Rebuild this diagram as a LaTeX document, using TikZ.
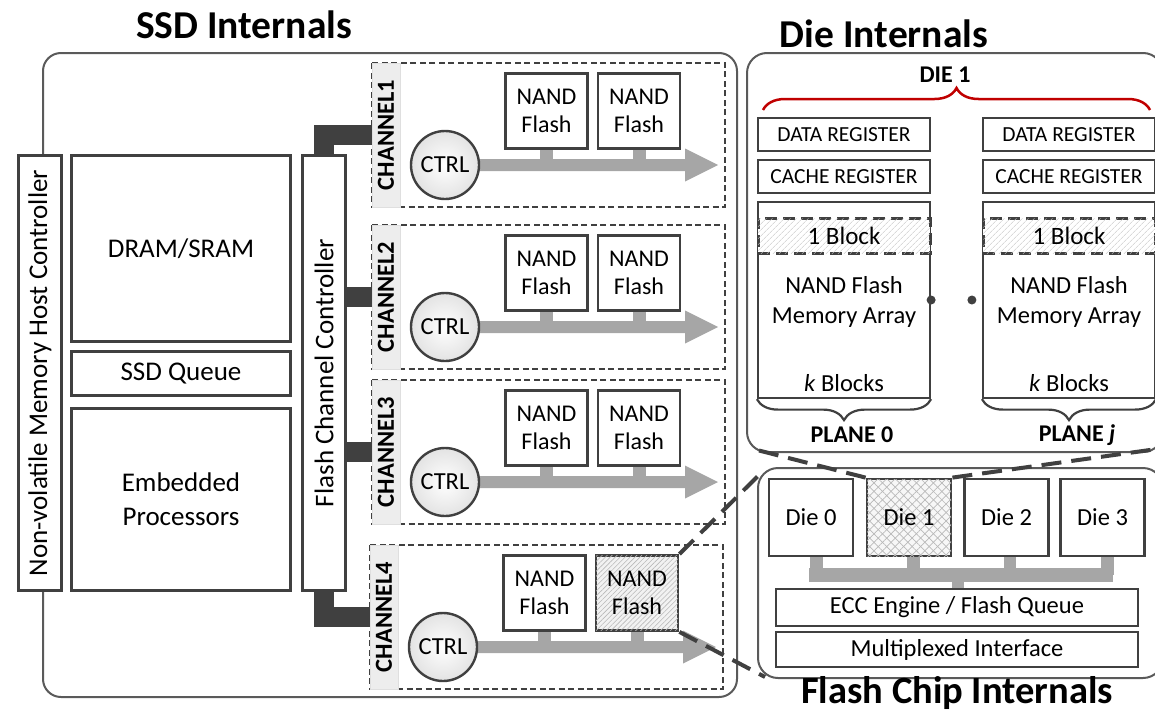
\documentclass[tikz,border=0pt]{standalone}
\usepackage{fontspec}
\setmainfont{Carlito}
\usepackage{graphicx}
\usetikzlibrary{patterns,patterns.meta,decorations.pathreplacing,calc}
\definecolor{lc}{HTML}{404040}
\definecolor{oc}{HTML}{5A5A5A}
\definecolor{busc}{HTML}{A6A6A6}
\definecolor{tabc}{HTML}{EDEDED}
\definecolor{redc}{HTML}{C00000}
\pgfdeclarelayer{bg}
\pgfsetlayers{bg,main}
\newcommand\fsz[2]{\fontsize{#1}{#2}\selectfont}
\begin{document}
\begin{tikzpicture}[x=1pt,y=-1pt,
  bx/.style={draw=lc,line width=2.8pt,fill=white,inner sep=0pt,align=center},
  lefttxt/.style={font=\fsz{27}{34}},
  outerbox/.style={draw=oc,line width=2pt,rounded corners=18pt},
  chdash/.style={draw=lc,line width=1.6pt,dash pattern=on 6pt off 3.5pt},
  chtab/.style={fill=tabc,draw=gray!25,line width=0.8pt,inner sep=0pt,minimum width=28,minimum height=144,font=\fsz{24.5}{28}\bfseries},
  nandbox/.style={bx,minimum width=82,minimum height=75,font=\fsz{24}{28}},
  ctrlc/.style={circle,draw=lc,line width=2.4pt,inner sep=0pt,minimum size=68,inner color=white,outer color=gray!22,font=\fsz{24.5}{28}},
  dconn/.style={draw=lc,line width=19.5pt},
  hatchfill/.style={fill=gray!10,postaction={pattern={Lines[angle=45,distance=3.5pt,line width=0.6pt]},pattern color=gray!55}},
  nbs1/.style={},nbs2/.style={},nbs3/.style={},nbs4/.style={hatchfill},
  rbox/.style={draw=lc,line width=2.2pt,fill=white,inner sep=0pt,minimum width=172,minimum height=33,font=\fsz{21.5}{24}},
  blockband/.style={draw=lc,line width=3pt,dash pattern=on 12pt off 6pt,fill=white,postaction={pattern={Lines[angle=45,distance=4pt,line width=0.6pt]},pattern color=gray!45},inner sep=0pt,minimum width=172,minimum height=35,font=\fsz{25}{28}},
  dietxt/.style={font=\fsz{24.5}{30},align=center,inner sep=0pt},
  planelbl/.style={font=\fsz{24}{28}\bfseries,inner sep=0pt},
  diebox/.style={bx,minimum width=84,minimum height=77,font=\fsz{24.5}{28}},
  crossfill/.style={fill=gray!6,postaction={pattern={Lines[angle=45,distance=6pt,line width=0.7pt]},pattern color=gray!55},postaction={pattern={Lines[angle=-45,distance=6pt,line width=0.7pt]},pattern color=gray!55}},
  wbox/.style={bx,minimum width=362,font=\fsz{24.5}{28}},
  zoomdash/.style={draw=lc,line width=4pt,dash pattern=on 20pt off 10pt},
  ttl/.style={font=\fsz{39.5}{44}\bfseries,inner sep=0pt,anchor=base}
]
\useasboundingbox (0,0) rectangle (1155,712);
\clip (0,0) rectangle (1155,712);

% ---------------- SSD internals ----------------
\draw[outerbox] (43,53) rectangle (737,697);
\node[ttl] (tssd) at (244,38) {SSD Internals};

\node[bx,lefttxt,minimum width=43,minimum height=435] (host) at (40,373) {\rotatebox{90}{Non-volatile Memory Host Controller}};
\node[bx,lefttxt,minimum width=219,minimum height=186] (dram) at (181,248.5) {DRAM/SRAM};
\node[bx,lefttxt,minimum width=219,minimum height=44] (queue) at (181,373.5) {SSD Queue};
\node[bx,lefttxt,minimum width=219,minimum height=182] (proc) at (181,499.5) {Embedded\\Processors};
\node[bx,lefttxt,minimum width=43,minimum height=435] (fcc) at (324,373) {\rotatebox{90}{Flash Channel Controller}};

\foreach \i/\t/\dx in {1/63/0,2/225/0,3/380/0,4/545/-2}{
  \draw[chdash] (372+\dx,\t) rectangle (725+\dx,\t+144);
  \node[chtab] (tab\i) at (386+\dx,\t+72) {\rotatebox{90}{CHANNEL\i}};
  \node[nandbox] (na\i) at (546.5+\dx,\t+48) {NAND\\Flash};
  \node[nandbox,nbs\i] (nb\i) at (639+\dx,\t+48) {NAND\\Flash};
  \node[ctrlc] (ctrl\i) at (445+\dx,\t+102) {CTRL};
  \coordinate (end\i) at (718+\dx,\t+102);
  \begin{pgfonlayer}{bg}
    \fill[busc] ($(ctrl\i.center)+(0,-6)$) -- ($(end\i)+(-33,-6)$) -- ($(end\i)+(-33,-16.5)$) -- (end\i)
      -- ($(end\i)+(-33,16.5)$) -- ($(end\i)+(-33,6)$) -- ($(ctrl\i.center)+(0,6)$) -- cycle;
    \draw[busc,line width=13pt] (na\i.south) -- (na\i.south |- end\i);
    \draw[busc,line width=13pt] (nb\i.south) -- (nb\i.south |- end\i);
  \end{pgfonlayer}
}

\begin{pgfonlayer}{bg}
  \draw[dconn] (fcc.north) |- (tab1.center);
  \draw[dconn] (fcc.center |- tab2.center) -- (tab2.center);
  \draw[dconn] (fcc.center |- tab3.center) -- (tab3.center);
  \draw[dconn] (fcc.south) |- (tab4.center);
\end{pgfonlayer}

% ---------------- Die internals ----------------
\draw[outerbox,rounded corners=20pt] (747,53) rectangle (1163,452);
\node[ttl] (tdie) at (884,47) {Die Internals};
\node[planelbl] (die1lbl) at (945,75) {DIE 1};
\draw[redc,line width=2.5pt,decorate,decoration={brace,amplitude=22pt}] (763,110) -- (1150,110);

\foreach \p/\cx in {0/844,1/1069}{
  \node[rbox] (dr\p) at (\cx,134.5) {DATA REGISTER};
  \node[rbox] (cr\p) at (\cx,176.5) {CACHE REGISTER};
  \node[rbox,minimum height=196] (ar\p) at (\cx,300) {};
  \node[blockband] (bl\p) at (\cx,235.5) {1 Block};
  \node[dietxt] (at\p) at (\cx,302) {NAND Flash\\Memory Array};
  \node[dietxt] (kb\p) at (\cx,383) {\textit{k} Blocks};
  \draw[lc,line width=2.2pt,decorate,decoration={brace,amplitude=21pt,mirror}] (ar\p.south west) -- (ar\p.south east);
}
\node[planelbl] (pl0) at (852,435) {PLANE 0};
\node[planelbl] (pl1) at (1077,435) {PLANE \textit{j}};
\fill[lc] (ar0.east) circle (4.5);
\fill[lc] ($(ar1.west)+(-10,0)$) circle (4.5);

% ---------------- Flash chip internals ----------------
\draw[outerbox,rounded corners=20pt] (758,468) rectangle (1163,678);
\node[ttl,font=\fsz{38.5}{44}\bfseries] (tchip) at (957,703) {Flash Chip Internals};
\node[diebox] (d0) at (811,517.5) {Die 0};
\node[diebox,crossfill] (d1) at (909,517.5) {Die 1};
\node[diebox] (d2) at (1006.5,517.5) {Die 2};
\node[diebox] (d3) at (1102.5,517.5) {Die 3};
\node[wbox,minimum height=37] (ecc) at (957,607.5) {ECC Engine / Flash Queue};
\node[wbox,minimum height=35] (mux) at (957,649.5) {Multiplexed Interface};
\begin{pgfonlayer}{bg}
  \fill[busc] (809,568) rectangle (1113,582);
  \draw[busc,line width=13pt] ([xshift=5pt]d0.south) -- ++(0,18);
  \draw[busc,line width=13pt] ([xshift=4pt]d1.south) -- ++(0,18);
  \draw[busc,line width=12pt] ([xshift=3.5pt]d2.south) -- ++(0,18);
  \draw[busc,line width=13pt] ([xshift=4.5pt]d3.south) -- ++(0,18);
  \draw[busc,line width=12pt] ([xshift=1pt]ecc.north) -- ++(0,-14);
\end{pgfonlayer}

% ---------------- zoom lines ----------------
\coordinate (fcTL) at (762,472);
\coordinate (fcBL) at (765,677);
\coordinate (dieBL) at (757,450);
\coordinate (dieBR) at (1157,449);
\draw[zoomdash] (nb4.north east) -- (fcTL);
\draw[zoomdash] (nb4.south east) -- (fcBL);
\draw[zoomdash] (d1.north west) -- (dieBL);
\draw[zoomdash] (d1.north east) -- (dieBR);
\end{tikzpicture}
\end{document}
